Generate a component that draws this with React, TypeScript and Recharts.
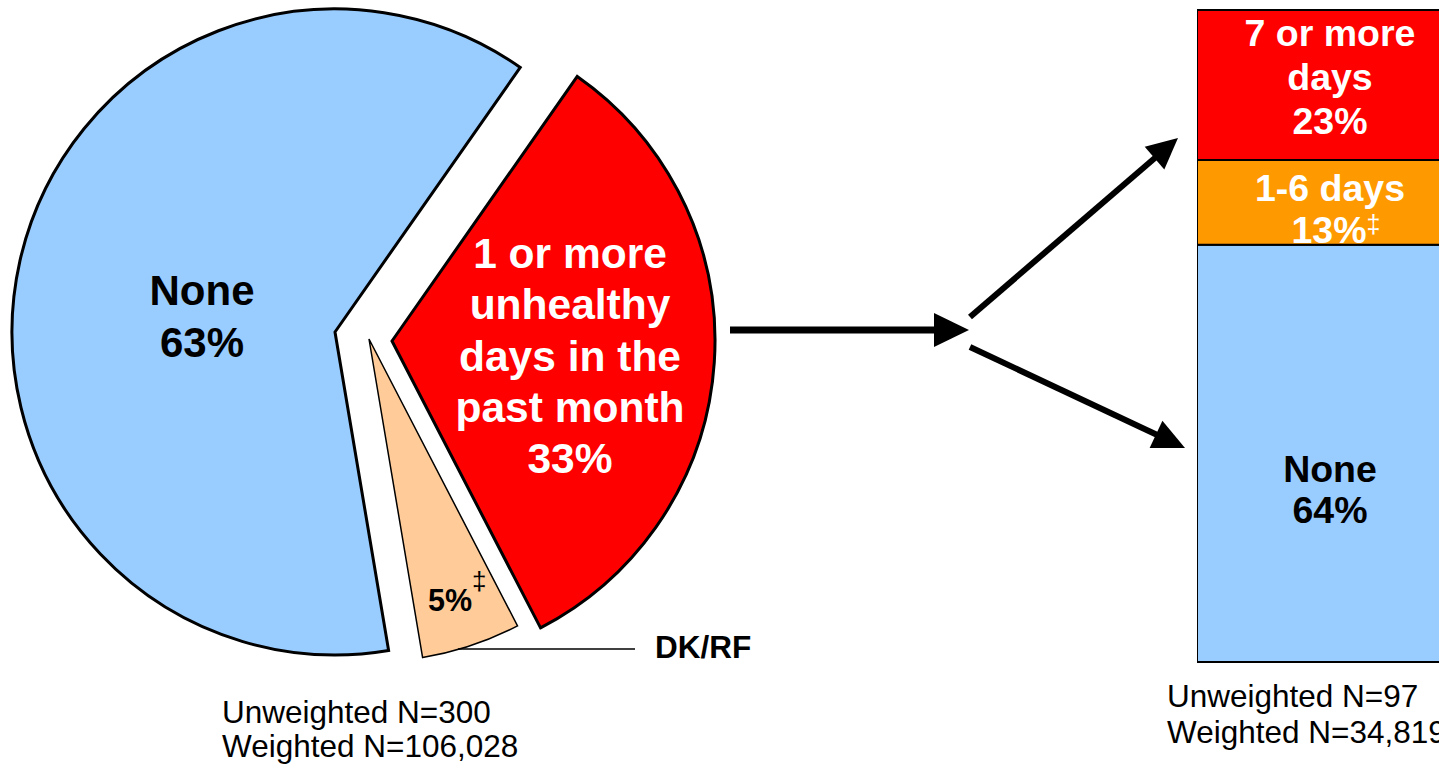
import React from 'react';
import { PieChart, Pie, Cell, BarChart, Bar, XAxis, YAxis, LabelList } from 'recharts';

// ---------- data ----------
const pieCategories = ['1 or more unhealthy days in the past month', 'DK/RF', 'None'];
const pieValues = [33, 5, 63];
const pieColors = ['#FF0000', '#FFCC99', '#99CCFF'];
const pieLabelLines = [['1 or more', 'unhealthy', 'days in the', 'past month'], [], ['None']];
const pieDagger = [false, true, false];
const pieN = ['Unweighted N=300', 'Weighted N=106,028'];

const barCategories = ['None', '1-6 days', '7 or more days'];
const barKeys = ['none', 'oneToSix', 'sevenPlus'];
const barValues = [64, 13, 23];
const barColors = ['#99CCFF', '#FF9900', '#FF0000'];
const barLabelLines = [['None'], ['1-6 days'], ['7 or more', 'days']];
const barDagger = [false, true, false];
const barN = ['Unweighted N=97', 'Weighted N=34,819'];

const pieData = pieCategories.map((name, i) => ({ name, value: pieValues[i] }));
const barRow: Record<string, any> = { name: 'Among those with 1 or more unhealthy days' };
barKeys.forEach((k, i) => { barRow[k] = barValues[i]; });
const barData = [barRow];

// ---------- layout ----------
const FONT = "'Liberation Sans', Arial, Helvetica, sans-serif";
const explode = [
  { cx: 392, cy: 341, sw: 3 },
  { cx: 369, cy: 339, sw: 1.5 },
  { cx: 335, cy: 332, sw: 3 },
];
const R = 323;

function Arrow({ x1, y1, x2, y2, hl, hw, sw }: any) {
  const dx = x2 - x1, dy = y2 - y1;
  const L = Math.sqrt(dx * dx + dy * dy);
  const ux = dx / L, uy = dy / L;
  const bx = x2 - ux * hl, by = y2 - uy * hl;
  const px = -uy, py = ux;
  const pts = `${x2},${y2} ${bx + px * hw / 2},${by + py * hw / 2} ${bx - px * hw / 2},${by - py * hw / 2}`;
  return (
    <g>
      <line x1={x1} y1={y1} x2={bx + ux * 2} y2={by + uy * 2} stroke="#000" strokeWidth={sw} />
      <polygon points={pts} fill="#000" />
    </g>
  );
}

const barLabelOffsets = [[237, 278], [41, 83], [36, 80, 124]];

const makeBarLabel = (i: number) => (props: any) => {
  const vb = props.viewBox || {};
  const x = props.x ?? vb.x;
  const y = props.y ?? vb.y;
  const w = props.width ?? vb.width;
  const cx = x + w / 2;
  const lines = barLabelLines[i];
  const offs = barLabelOffsets[i];
  const color = i === 0 ? '#000' : '#fff';
  return (
    <g>
      {lines.map((l, j) => (
        <text key={j} x={cx} y={y + offs[j]} textAnchor="middle" fontFamily={FONT} fontWeight="bold" fontSize={37.5} fill={color}>
          {l}
        </text>
      ))}
      <text x={cx + (barDagger[i] ? 6 : 0)} y={y + offs[lines.length]} textAnchor="middle" fontFamily={FONT} fontWeight="bold" fontSize={37.5} fill={color}>
        {`${barValues[i]}%`}
        {barDagger[i] ? <tspan fontSize={25} fontWeight="normal" dy={-10}>‡</tspan> : null}
      </text>
    </g>
  );
};

export default function App() {
  return (
    <div style={{ position: 'absolute', left: 0, top: 0, width: 1439, height: 765, overflow: 'hidden', background: '#fff' }}>
      <div style={{ position: 'absolute', left: 0, top: 0 }}>
        <PieChart width={760} height={765} margin={{ top: 0, right: 0, bottom: 0, left: 0 }}>
          {explode.map((e, k) => (
            <Pie
              key={k}
              data={pieData}
              dataKey="value"
              nameKey="name"
              cx={e.cx}
              cy={e.cy}
              innerRadius={0}
              outerRadius={R}
              startAngle={55}
              endAngle={-305}
              isAnimationActive={false}
              label={false}
              labelLine={false}
            >
              {pieData.map((d, i) => (
                <Cell
                  key={i}
                  fill={i === k ? pieColors[i] : 'none'}
                  stroke={i === k ? '#000' : 'none'}
                  strokeWidth={e.sw}
                />
              ))}
            </Pie>
          ))}
        </PieChart>
      </div>
      <div style={{ position: 'absolute', left: 1197, top: 0 }}>
        <BarChart width={266} height={765} data={barData} margin={{ top: 10, right: 0, bottom: 103, left: 0 }} barCategoryGap={0} barGap={0}>
          <XAxis dataKey="name" hide />
          <YAxis hide domain={[0, 100]} />
          {barKeys.map((k, i) => (
            <Bar key={k} dataKey={k} name={barCategories[i]} stackId="a" fill={barColors[i]} stroke="#000" strokeWidth={2} isAnimationActive={false}>
              <LabelList dataKey={k} content={makeBarLabel(i)} />
            </Bar>
          ))}
        </BarChart>
      </div>
      <svg width={1439} height={765} style={{ position: 'absolute', left: 0, top: 0, pointerEvents: 'none' }}>
        {/* pie labels */}
        <text x={202} y={305} textAnchor="middle" fontFamily={FONT} fontWeight="bold" fontSize={42} fill="#000">{pieLabelLines[2][0]}</text>
        <text x={202} y={357} textAnchor="middle" fontFamily={FONT} fontWeight="bold" fontSize={42} fill="#000">{`${pieValues[2]}%`}</text>
        {pieLabelLines[0].map((l, j) => (
          <text key={j} x={570} y={268 + j * 51.3} textAnchor="middle" fontFamily={FONT} fontWeight="bold" fontSize={42.5} fill="#fff">{l}</text>
        ))}
        <text x={570} y={473} textAnchor="middle" fontFamily={FONT} fontWeight="bold" fontSize={42.5} fill="#fff">{`${pieValues[0]}%`}</text>
        <text x={428} y={611} fontFamily={FONT} fontWeight="bold" fontSize={30.5} fill="#000">
          {`${pieValues[1]}%`}
          {pieDagger[1] ? <tspan fontSize={26} fontWeight="normal" dy={-21}>‡</tspan> : null}
        </text>
        <line x1={458} y1={649} x2={635} y2={649} stroke="#000" strokeWidth={1.5} />
        <text x={655} y={658} fontFamily={FONT} fontWeight="bold" fontSize={31.5} fill="#000">{pieCategories[1]}</text>
        {/* N texts */}
        <text x={222} y={723} fontFamily={FONT} fontSize={31.5} fill="#000">{pieN[0]}</text>
        <text x={222} y={757} fontFamily={FONT} fontSize={31.5} fill="#000">{pieN[1]}</text>
        <text x={1167} y={707} fontFamily={FONT} fontSize={31.5} fill="#000">{barN[0]}</text>
        <text x={1167} y={743} fontFamily={FONT} fontSize={31.5} fill="#000">{barN[1]}</text>
        {/* arrows */}
        <Arrow x1={730} y1={330} x2={969} y2={330} hl={35} hw={34} sw={7} />
        <Arrow x1={970} y1={317} x2={1178} y2={138} hl={31} hw={30} sw={6} />
        <Arrow x1={970} y1={347} x2={1185} y2={448} hl={32} hw={30} sw={6} />
      </svg>
    </div>
  );
}
